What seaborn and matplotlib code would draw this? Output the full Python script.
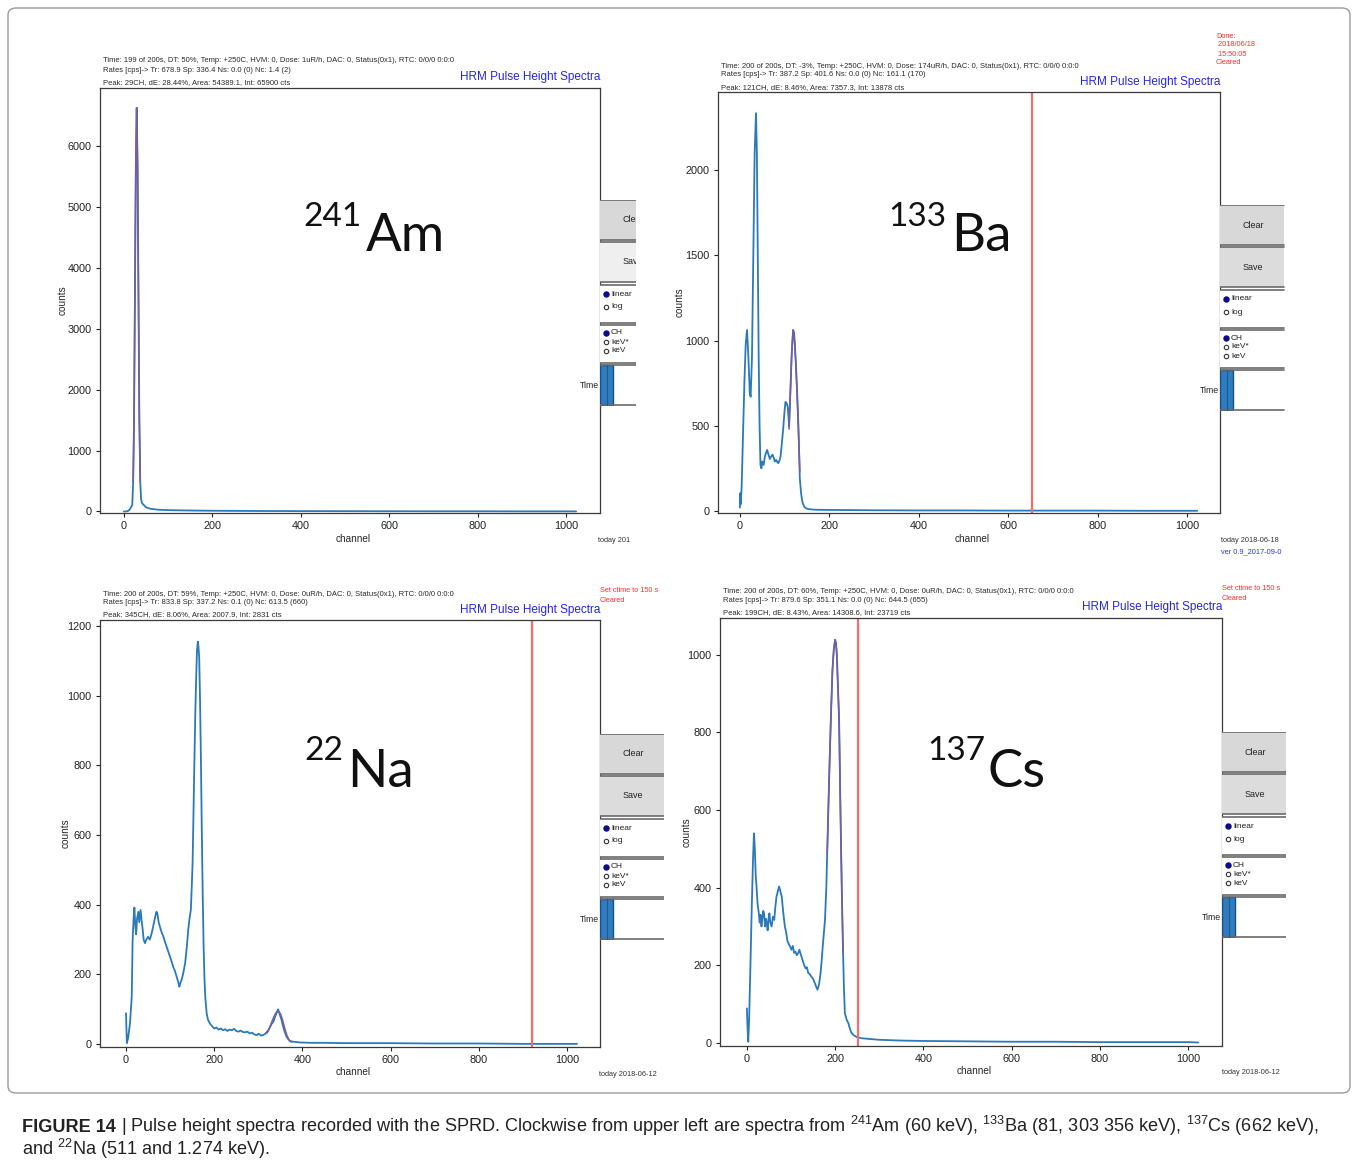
import matplotlib
matplotlib.use("Agg")
import matplotlib.pyplot as plt
from matplotlib.patches import Rectangle, FancyBboxPatch
from matplotlib import font_manager
import seaborn as sns
import pandas as pd

# ---------------- data ----------------
am_ch = [0, 3, 6, 10, 14, 17, 19, 21, 23, 25, 27, 29, 31, 33, 35, 37, 39, 41, 43, 46, 50, 55, 60, 70, 80,
         100, 130, 160, 200, 250, 300, 400, 500, 600, 700, 800, 900, 1000, 1023]
am_ct = [0, 0, 2, 10, 40, 80, 110, 490, 1510, 3560, 5680, 6630, 5680, 3560, 1510, 490, 200, 140, 120, 100, 70,
         55, 45, 35, 28, 22, 18, 15, 12, 10, 8, 6, 5, 4, 3, 3, 2, 2, 1]
am_fit_ch = [21, 23, 25, 27, 29, 31, 33, 35, 37]
am_fit_ct = [490, 1510, 3560, 5680, 6630, 5680, 3560, 1510, 490]

ba_ch = [0, 1, 2, 4, 7, 10, 13, 16, 19, 22, 24, 27, 30, 33, 36, 38, 40, 42, 44, 46, 48, 50, 53, 56, 59, 61,
         64, 67, 70, 73, 76, 78, 81, 84, 86, 89, 91, 94, 97, 100, 102, 105, 107, 109, 110, 112, 114, 116, 119,
         121, 123, 125, 128, 131, 133, 134, 137, 140, 144, 148, 155, 170, 200, 300, 400, 500, 600, 700, 800,
         900, 1000, 1023]
ba_ct = [20, 105, 40, 150, 450, 750, 980, 1062, 900, 700, 670, 900, 1500, 2100, 2334, 2100, 1500, 900, 500,
         270, 250, 290, 270, 320, 345, 358, 330, 305, 320, 330, 310, 290, 300, 285, 280, 300, 320, 400, 487,
         590, 640, 630, 610, 540, 495, 640, 780, 930, 1062, 1050, 980, 876, 700, 487, 300, 193, 100, 50, 25,
         15, 10, 7, 6, 4, 3, 3, 2, 2, 2, 1, 1, 1]
ba_fit_ch = [110, 113, 116, 119, 122, 125, 128, 131, 134]
ba_fit_ct = [480, 700, 930, 1062, 1000, 870, 680, 470, 230]

na_ch = [0, 1, 2, 5, 9, 13, 15, 17, 19, 21, 23, 25, 28, 30, 33, 35, 38, 40, 43, 46, 50, 54, 58, 62, 66, 69,
         71, 74, 77, 81, 85, 88, 92, 96, 100, 104, 107, 111, 115, 118, 121, 123, 126, 130, 134, 138, 141, 144,
         147, 149, 151, 153, 155, 157, 159, 161, 163, 164, 166, 168, 170, 172, 174, 176, 178, 180, 183, 186,
         190, 195, 200, 205, 210, 215, 220, 225, 230, 235, 240, 245, 250, 255, 260, 265, 270, 275, 281, 286,
         291, 296, 301, 306, 311, 316, 320, 323, 327, 330, 334, 337, 340, 343, 345, 347, 350, 353, 356, 360,
         364, 368, 372, 380, 395, 420, 450, 500, 600, 700, 800, 900, 1000, 1023]
na_ct = [89, 40, 3, 20, 60, 136, 300, 356, 392, 340, 315, 360, 380, 350, 385, 360, 327, 300, 290, 300, 308,
         300, 317, 340, 365, 380, 375, 350, 337, 320, 308, 295, 280, 265, 250, 235, 222, 210, 193, 180, 165,
         175, 184, 205, 232, 280, 327, 360, 385, 450, 519, 660, 806, 940, 1046, 1130, 1155, 1145, 1110, 980,
         806, 600, 423, 280, 184, 130, 88, 70, 60, 52, 45, 48, 42, 45, 40, 43, 38, 42, 40, 44, 38, 36, 39, 35,
         34, 36, 31, 33, 28, 26, 30, 25, 26, 30, 36, 40, 50, 58, 64, 75, 85, 95, 100, 92, 80, 69, 52, 35, 22,
         14, 9, 7, 5, 4, 4, 3, 3, 2, 2, 1, 1, 1]
na_fit_ch = [320, 325, 330, 335, 340, 345, 350, 355, 360, 365, 370, 375]
na_fit_ct = [32, 45, 62, 78, 90, 95, 88, 70, 45, 25, 12, 6]

cs_ch = [0, 1, 3, 5, 8, 11, 14, 16, 18, 20, 22, 24, 27, 29, 31, 33, 35, 37, 39, 41, 43, 45, 47, 49, 51, 53,
         56, 59, 62, 64, 67, 70, 73, 76, 79, 82, 86, 89, 92, 95, 98, 101, 104, 107, 110, 113, 116, 119, 122,
         124, 127, 130, 133, 136, 139, 142, 146, 150, 154, 157, 160, 162, 164, 167, 169, 172, 175, 177, 180,
         182, 185, 188, 191, 194, 197, 200, 202, 204, 206, 209, 211, 213, 215, 218, 220, 222, 226, 230, 233,
         237, 242, 249, 260, 279, 300, 350, 400, 500, 600, 700, 800, 900, 1000, 1023]
cs_ct = [89, 50, 3, 60, 200, 350, 480, 540, 500, 430, 400, 360, 334, 310, 330, 300, 320, 340, 334, 300, 320,
         308, 290, 320, 334, 310, 300, 325, 317, 345, 377, 390, 403, 390, 377, 340, 300, 285, 262, 255, 248,
         240, 250, 232, 235, 226, 231, 240, 228, 222, 210, 200, 192, 195, 180, 178, 171, 165, 154, 145, 137,
         145, 154, 180, 205, 250, 290, 317, 400, 489, 620, 747, 860, 962, 1015, 1039, 1030, 1000, 930, 832,
         680, 532, 400, 231, 140, 77, 60, 51, 38, 26, 20, 15, 12, 10, 8, 6, 5, 4, 3, 3, 2, 2, 2, 1]
cs_fit_ch = [182, 185, 188, 191, 194, 197, 200, 203, 206, 209, 212, 215, 218]
cs_fit_ct = [489, 620, 747, 860, 962, 1015, 1039, 1015, 930, 832, 600, 400, 231]

y_ticks_am = [0, 1000, 2000, 3000, 4000, 5000, 6000]
y_ticks_ba = [0, 500, 1000, 1500, 2000]
y_ticks_na = [0, 200, 400, 600, 800, 1000, 1200]
y_ticks_cs = [0, 200, 400, 600, 800, 1000]
x_ticks = [0, 200, 400, 600, 800, 1000]

red_line_ba = 653
red_line_na = 921
red_line_cs = 252

isotope_mass = ["241", "133", "22", "137"]
isotope_sym = ["Am", "Ba", "Na", "Cs"]

hdr_am = ["Time: 199 of 200s, DT: 50%, Temp: +250C, HVM: 0, Dose: 1uR/h, DAC: 0, Status(0x1), RTC: 0/0/0 0:0:0",
          "Rates [cps]-> Tr: 678.9 Sp: 336.4 Ns: 0.0 (0) Nc: 1.4 (2)",
          "Peak: 29CH, dE: 28.44%, Area: 54389.1, Int: 65900 cts"]
hdr_ba = ["Time: 200 of 200s, DT: -3%, Temp: +250C, HVM: 0, Dose: 174uR/h, DAC: 0, Status(0x1), RTC: 0/0/0 0:0:0",
          "Rates [cps]-> Tr: 387.2 Sp: 401.6 Ns: 0.0 (0) Nc: 161.1 (170)",
          "Peak: 121CH, dE: 8.46%, Area: 7357.3, Int: 13878 cts"]
hdr_na = ["Time: 200 of 200s, DT: 59%, Temp: +250C, HVM: 0, Dose: 0uR/h, DAC: 0, Status(0x1), RTC: 0/0/0 0:0:0",
          "Rates [cps]-> Tr: 833.8 Sp: 337.2 Ns: 0.1 (0) Nc: 613.5 (660)",
          "Peak: 345CH, dE: 8.06%, Area: 2007.9, Int: 2831 cts"]
hdr_cs = ["Time: 200 of 200s, DT: 60%, Temp: +250C, HVM: 0, Dose: 0uR/h, DAC: 0, Status(0x1), RTC: 0/0/0 0:0:0",
          "Rates [cps]-> Tr: 879.6 Sp: 351.1 Ns: 0.0 (0) Nc: 644.5 (655)",
          "Peak: 199CH, dE: 8.43%, Area: 14308.6, Int: 23719 cts"]

status_ba = ["Done:", " 2018/06/18", " 15:50:05", "Cleared"]
status_na = ["Set ctime to 150 s", "Cleared"]
status_cs = ["Set ctime to 150 s", "Cleared"]

foot_am = ["today 201"]
foot_ba = ["today 2018-06-18", "ver 0.9_2017-09-0"]
foot_na = ["today 2018-06-12"]
foot_cs = ["today 2018-06-12"]

caption_bold = "FIGURE 14"
caption_1 = (r" | Pulse height spectra recorded with the SPRD. Clockwise from upper left are spectra from "
             r"$\mathregular{^{241}}$Am (60 keV), $\mathregular{^{133}}$Ba (81, 303 356 keV), "
             r"$\mathregular{^{137}}$Cs (662 keV),")
caption_2 = r"and $\mathregular{^{22}}$Na (511 and 1.274 keV)."

# ---------------- style ----------------
sns.set_style("ticks")
plt.rcParams['font.family'] = ['Liberation Sans', 'DejaVu Sans']
plt.rcParams['mathtext.fontset'] = 'custom'
plt.rcParams['mathtext.rm'] = 'Liberation Sans'

names = {f.name for f in font_manager.fontManager.ttflist}
cap_font = 'Liberation Sans Narrow' if 'Liberation Sans Narrow' in names else 'Liberation Sans'
big_font = 'Lato' if 'Lato' in names else 'DejaVu Sans'

W, H = 1358, 1168
fig = plt.figure(figsize=(W / 100, H / 100), dpi=100)
fig.patch.set_facecolor('white')


def fx(x):
    return x / W


def fy(y):
    return 1 - y / H


def add_ax(x0, y0, x1, y1):
    return fig.add_axes([x0 / W, 1 - y1 / H, (x1 - x0) / W, (y1 - y0) / H])


BLUE = '#2a7ab9'
PURPLE = '#7d5c9c'
RED = '#ef6e6e'

panels = [
    dict(box=(100, 88, 600, 513), xlim=(-54, 1077), ylim=(-25, 6955), yt=y_ticks_am,
         ch=am_ch, ct=am_ct, fch=am_fit_ch, fct=am_fit_ct, red=None, hdr=hdr_am, hdr_y=(61, 70, 83),
         hrm_y=77, lab=(362, 226, 366, 251), wid=(600, 200, 636), save_fc='#efefef',
         status=None, foot=foot_am, foot_xy=(598, 541), ylab_x=63, xlab_y=539),
    dict(box=(718, 92, 1220, 513), xlim=(-49, 1074), ylim=(-12, 2458), yt=y_ticks_ba,
         ch=ba_ch, ct=ba_ct, fch=ba_fit_ch, fct=ba_fit_ct, red=red_line_ba, hdr=hdr_ba, hdr_y=(66, 74, 88),
         hrm_y=82, lab=(946, 226, 951, 251), wid=(1220, 205, 1285), save_fc='#dcdcdc',
         status=(status_ba, 1216, (37, 45, 54, 63)), foot=foot_ba, foot_xy=(1221, 540), ylab_x=680, xlab_y=539),
    dict(box=(100, 620, 600, 1047), xlim=(-59, 1075), ylim=(-8, 1217), yt=y_ticks_na,
         ch=na_ch, ct=na_ct, fch=na_fit_ch, fct=na_fit_ct, red=red_line_na, hdr=hdr_na, hdr_y=(594, 602, 615),
         hrm_y=610, lab=(343, 760, 347, 787), wid=(600, 734, 664), save_fc='#dcdcdc',
         status=(status_na, 600, (590, 600)), foot=foot_na, foot_xy=(599, 1074), ylab_x=66, xlab_y=1072),
    dict(box=(720, 618, 1222, 1046), xlim=(-61, 1077), ylim=(-8, 1095), yt=y_ticks_cs,
         ch=cs_ch, ct=cs_ct, fch=cs_fit_ch, fct=cs_fit_ct, red=red_line_cs, hdr=hdr_cs, hdr_y=(591, 600, 613),
         hrm_y=607, lab=(985, 760, 988, 787), wid=(1222, 732, 1286), save_fc='#dcdcdc',
         status=(status_cs, 1222, (589, 598)), foot=foot_cs, foot_xy=(1222, 1073), ylab_x=687, xlab_y=1071),
]

for i, p in enumerate(panels):
    x0, y0, x1, y1 = p['box']
    ax = add_ax(x0, y0, x1, y1)
    df = pd.DataFrame({'channel': p['ch'], 'counts': p['ct']})
    sns.lineplot(data=df, x='channel', y='counts', ax=ax, color=BLUE, lw=1.3, estimator=None)
    dff = pd.DataFrame({'channel': p['fch'], 'counts': p['fct']})
    sns.lineplot(data=dff, x='channel', y='counts', ax=ax, color=PURPLE, lw=1.1, estimator=None)
    if p['red'] is not None:
        ax.axvline(p['red'], color=RED, lw=1.6)
    ax.set_xlim(*p['xlim'])
    ax.set_ylim(*p['ylim'])
    ax.set_xticks(x_ticks)
    ax.set_yticks(p['yt'])
    ax.tick_params(labelsize=7.8, length=3, width=0.8, colors='#222222', pad=3)
    ax.set_xlabel('')
    ax.set_ylabel('')
    for s in ax.spines.values():
        s.set_color('#3a3a3a')
        s.set_linewidth(0.9)
    fig.text(fx((x0 + x1) / 2 + 3), fy(p['xlab_y']), 'channel', ha='center', va='center', fontsize=7.2)
    fig.text(fx(p['ylab_x']), fy((y0 + y1) / 2), 'counts', ha='center', va='center', rotation=90, fontsize=7.2)

    # header lines
    for line, yy in zip(p['hdr'], p['hdr_y']):
        fig.text(fx(x0 + 3), fy(yy), line, ha='left', va='center', fontsize=5.5, color='#2a2a2a')
    fig.text(fx(x1), fy(p['hrm_y']), 'HRM Pulse Height Spectra', ha='right', va='center',
             fontsize=8.5, color='#2626e6')

    # isotope label
    sx, sy, bx, by = p['lab']
    fig.text(fx(sx), fy(sy), isotope_mass[i], ha='right', va='baseline', fontsize=24,
             family=big_font, color='#111111')
    fig.text(fx(bx), fy(by), isotope_sym[i], ha='left', va='baseline', fontsize=38,
             family=big_font, color='#111111')

    # status (red)
    if p['status'] is not None:
        lines, sxp, ys = p['status']
        for line, yy in zip(lines, ys):
            fig.text(fx(sxp), fy(yy), line, ha='left', va='center', fontsize=5.3, color='#ff2e2e')

    # footer
    fxp, fyp = p['foot_xy']
    fig.text(fx(fxp), fy(fyp), p['foot'][0], ha='left', va='center', fontsize=5.3, color='#333333')
    if len(p['foot']) > 1:
        fig.text(fx(fxp), fy(fyp + 12), p['foot'][1], ha='left', va='center', fontsize=5.3, color='#2a3ad0')

    # widgets
    wx0, wy0, wx1 = p['wid']
    wax = add_ax(wx0, wy0, wx1, wy0 + 206)
    wax.set_xlim(0, wx1 - wx0)
    wax.set_ylim(206, 0)
    wax.axis('off')
    full_w = 64
    boxes = [(0, 40, '#d8d8d8'), (42, 82, p['save_fc']), (85, 123, 'white'), (125, 163, 'white'),
             (165, 205, 'white')]
    for (ya, yb, fc) in boxes:
        wax.add_patch(Rectangle((0, ya), full_w, yb - ya, fc=fc, ec='none', clip_on=True))
        wax.plot([0, full_w], [ya, ya], color='#6a6a6a', lw=1.2, clip_on=True)
        wax.plot([0, full_w], [yb, yb], color='#6a6a6a', lw=1.2, clip_on=True)
    wax.text(33, 20, 'Clear', ha='center', va='center', fontsize=6.5, clip_on=True, color='#222222')
    wax.text(33, 62, 'Save', ha='center', va='center', fontsize=6.5, clip_on=True, color='#222222')
    radio = [(94, 'linear', True), (107, 'log', False), (133, 'CH', True), (142, 'keV*', False),
             (151, 'keV', False)]
    for yy, lab, on in radio:
        if on:
            wax.plot([6], [yy], marker='o', ms=3.6, mfc='#0a0a8c', mec='#0a0a8c', clip_on=True)
        else:
            wax.plot([6], [yy], marker='o', ms=3.2, mfc='white', mec='#333333', mew=0.8, clip_on=True)
        wax.text(11, yy, lab, ha='left', va='center', fontsize=6.0, clip_on=True, color='#222222')
    wax.add_patch(Rectangle((0, 165), 13, 40, fc='#2f7cc0', ec='#1c4f82', lw=1.0))
    wax.plot([7, 7], [165, 205], color='#1c5a94', lw=0.8)
    fig.text(fx(wx0 - 1), fy(wy0 + 185), 'Time', ha='right', va='center', fontsize=6.3, color='#222222')

# outer frame
frame = FancyBboxPatch((fx(8), fy(1093)), (1342) / W, (1085) / H,
                       boxstyle='round,pad=0,rounding_size=0.006', transform=fig.transFigure,
                       fc='none', ec='#9a9a9a', lw=1.0)
fig.patches.append(frame)

# caption
fig.canvas.draw()
renderer = fig.canvas.get_renderer()
cs = 12.0
t_b = fig.text(fx(22), fy(1132), caption_bold, ha='left', va='baseline', fontsize=cs,
               weight='bold', family=cap_font, color='#222222')
bb = t_b.get_window_extent(renderer)
t_1 = fig.text(bb.x1 / W, fy(1132), caption_1, ha='left', va='baseline', fontsize=cs,
               family=cap_font, color='#222222')
b1 = t_1.get_window_extent(renderer)
target = 1316 - 22
scale = target / (b1.x1 - bb.x0)
cs2 = cs * scale
t_b.set_fontsize(cs2)
bb = t_b.get_window_extent(renderer)
t_1.set_fontsize(cs2)
t_1.set_x(bb.x1 / W)
fig.text(fx(22), fy(1155), caption_2, ha='left', va='baseline', fontsize=cs2,
         family=cap_font, color='#222222')

fig.savefig('out.png', dpi=100, facecolor='white')
